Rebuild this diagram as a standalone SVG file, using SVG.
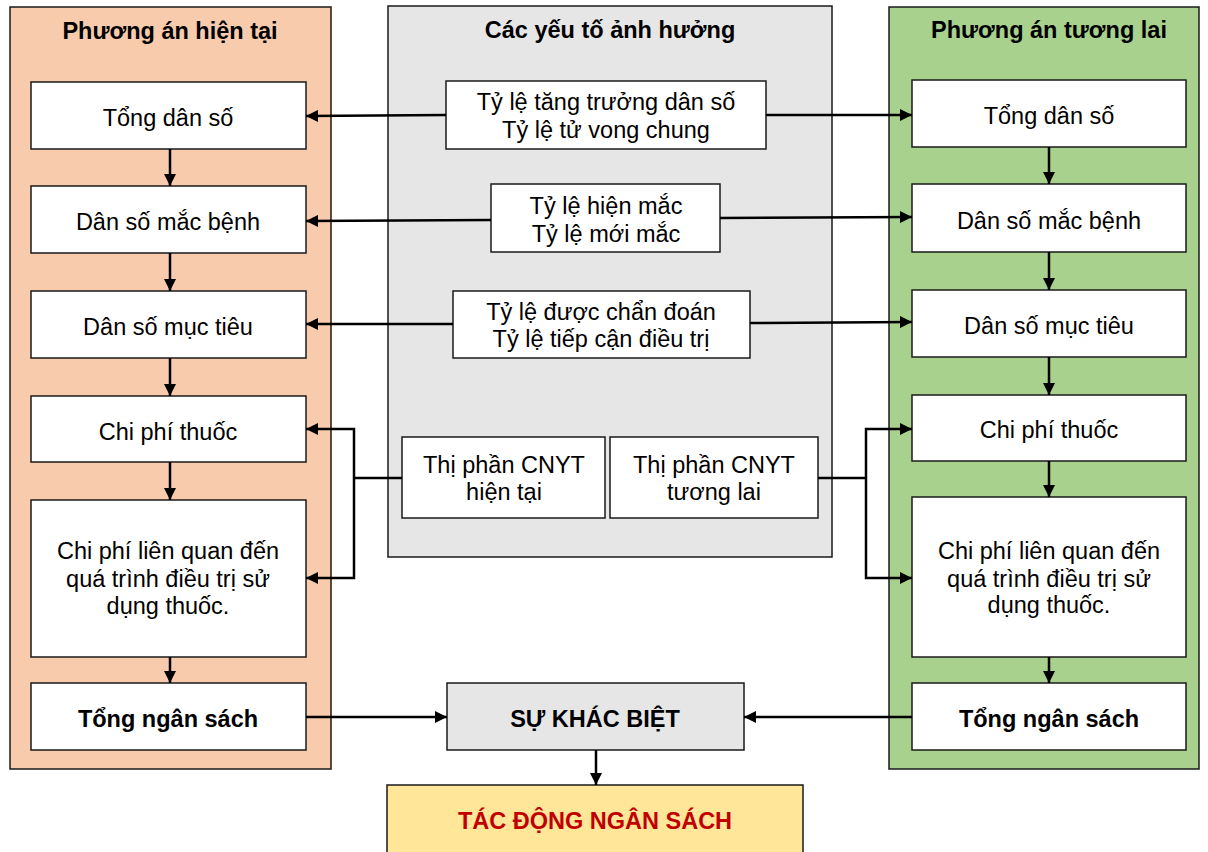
<svg xmlns="http://www.w3.org/2000/svg" width="1208" height="852" viewBox="0 0 1208 852">
<style>
.panel{stroke:#1a1a1a;stroke-width:1.5}
.box{fill:#fff;stroke:#1a1a1a;stroke-width:1.5}
.t{font-family:"Liberation Sans",Arial,sans-serif;font-size:23.5px;fill:#000;text-anchor:middle}
.b{font-weight:bold}
.c{fill:none;stroke:#000;stroke-width:2.5}
</style>
<defs>
<marker id="ah" markerUnits="userSpaceOnUse" markerWidth="14" markerHeight="12" refX="12" refY="6" orient="auto">
<path d="M0,0 L12,6 L0,12 Z" fill="#000"/>
</marker>
</defs>
<rect width="1208" height="852" fill="#fff"/>
<g id="panel-left">
<rect class="panel" x="10" y="7" width="321" height="762" fill="#F8CBAD"/>
<text class="t b" x="170" y="39">Phương án hiện tại</text>
</g>
<g id="panel-mid">
<rect class="panel" x="388" y="6" width="444" height="551" fill="#E6E6E6"/>
<text class="t b" x="610" y="38">Các yếu tố ảnh hưởng</text>
</g>
<g id="panel-right">
<rect class="panel" x="889" y="7" width="310" height="762" fill="#A9D18E"/>
<text class="t b" x="1049" y="38">Phương án tương lai</text>
</g>
<g id="L1"><rect class="box" x="31" y="82" width="275" height="67"/><text class="t" x="168" y="126">Tổng dân số</text></g>
<g id="L2"><rect class="box" x="31" y="186" width="275" height="67"/><text class="t" x="168" y="230">Dân số mắc bệnh</text></g>
<g id="L3"><rect class="box" x="31" y="291" width="275" height="67"/><text class="t" x="168" y="335">Dân số mục tiêu</text></g>
<g id="L4"><rect class="box" x="31" y="396" width="275" height="66"/><text class="t" x="168" y="440">Chi phí thuốc</text></g>
<g id="L5"><rect class="box" x="31" y="500" width="275" height="157"/><text class="t" x="168" y="559">Chi phí liên quan đến</text><text class="t" x="168" y="587">quá trình điều trị sử</text><text class="t" x="168" y="614">dụng thuốc.</text></g>
<g id="L6"><rect class="box" x="31" y="683" width="275" height="67"/><text class="t b" x="168" y="727">Tổng ngân sách</text></g>
<g id="M1"><rect class="box" x="446" y="81" width="320" height="68"/><text class="t" x="606" y="110">Tỷ lệ tăng trưởng dân số</text><text class="t" x="606" y="138">Tỷ lệ tử vong chung</text></g>
<g id="M2"><rect class="box" x="491" y="184" width="229" height="68"/><text class="t" x="606" y="214">Tỷ lệ hiện mắc</text><text class="t" x="606" y="242">Tỷ lệ mới mắc</text></g>
<g id="M3"><rect class="box" x="453" y="291" width="297" height="67"/><text class="t" x="601" y="320">Tỷ lệ được chẩn đoán</text><text class="t" x="601" y="347">Tỷ lệ tiếp cận điều trị</text></g>
<g id="M4"><rect class="box" x="402" y="437" width="203" height="81"/><text class="t" x="504" y="473">Thị phần CNYT</text><text class="t" x="504" y="500">hiện tại</text></g>
<g id="M5"><rect class="box" x="610" y="437" width="208" height="81"/><text class="t" x="714" y="473">Thị phần CNYT</text><text class="t" x="714" y="500">tương lai</text></g>
<g id="R1"><rect class="box" x="912" y="80" width="274" height="67"/><text class="t" x="1049" y="124">Tổng dân số</text></g>
<g id="R2"><rect class="box" x="912" y="184" width="274" height="68"/><text class="t" x="1049" y="229">Dân số mắc bệnh</text></g>
<g id="R3"><rect class="box" x="912" y="290" width="274" height="67"/><text class="t" x="1049" y="334">Dân số mục tiêu</text></g>
<g id="R4"><rect class="box" x="912" y="395" width="274" height="66"/><text class="t" x="1049" y="438">Chi phí thuốc</text></g>
<g id="R5"><rect class="box" x="912" y="497" width="274" height="160"/><text class="t" x="1049" y="559">Chi phí liên quan đến</text><text class="t" x="1049" y="587">quá trình điều trị sử</text><text class="t" x="1049" y="613">dụng thuốc.</text></g>
<g id="R6"><rect class="box" x="912" y="683" width="274" height="67"/><text class="t b" x="1049" y="727">Tổng ngân sách</text></g>
<g id="diff"><rect class="box" x="447" y="683" width="297" height="67" style="fill:#E6E6E6"/><text class="t b" x="595" y="727">SỰ KHÁC BIỆT</text></g>
<g id="impact"><rect class="box" x="387" y="785" width="416" height="80" style="fill:#FFE699"/><text class="t b" x="595" y="829" style="fill:#C00000">TÁC ĐỘNG NGÂN SÁCH</text></g>
<g id="connectors">
<path class="c" d="M446,115 L306,116" marker-end="url(#ah)"/>
<path class="c" d="M766,115 L912,115" marker-end="url(#ah)"/>
<path class="c" d="M491,220 L306,221" marker-end="url(#ah)"/>
<path class="c" d="M720,218 L912,217" marker-end="url(#ah)"/>
<path class="c" d="M453,324 L306,324" marker-end="url(#ah)"/>
<path class="c" d="M750,323 L912,322" marker-end="url(#ah)"/>
<path class="c" d="M402,478 L354,478"/>
<path class="c" d="M354,478 L354,429 L306,429" marker-end="url(#ah)"/>
<path class="c" d="M354,478 L354,578 L306,578" marker-end="url(#ah)"/>
<path class="c" d="M818,478 L866,478"/>
<path class="c" d="M866,478 L866,429 L912,429" marker-end="url(#ah)"/>
<path class="c" d="M866,478 L866,578 L912,578" marker-end="url(#ah)"/>
<path class="c" d="M170,149 L170,186" marker-end="url(#ah)"/>
<path class="c" d="M170,253 L170,291" marker-end="url(#ah)"/>
<path class="c" d="M170,358 L170,396" marker-end="url(#ah)"/>
<path class="c" d="M170,462 L170,500" marker-end="url(#ah)"/>
<path class="c" d="M170,657 L170,683" marker-end="url(#ah)"/>
<path class="c" d="M1049,147 L1049,184" marker-end="url(#ah)"/>
<path class="c" d="M1049,252 L1049,290" marker-end="url(#ah)"/>
<path class="c" d="M1049,357 L1049,395" marker-end="url(#ah)"/>
<path class="c" d="M1049,461 L1049,497" marker-end="url(#ah)"/>
<path class="c" d="M1049,657 L1049,683" marker-end="url(#ah)"/>
<path class="c" d="M306,717 L447,717" marker-end="url(#ah)"/>
<path class="c" d="M912,717 L744,717" marker-end="url(#ah)"/>
<path class="c" d="M596,750 L596,785" marker-end="url(#ah)"/>
</g>
</svg>
